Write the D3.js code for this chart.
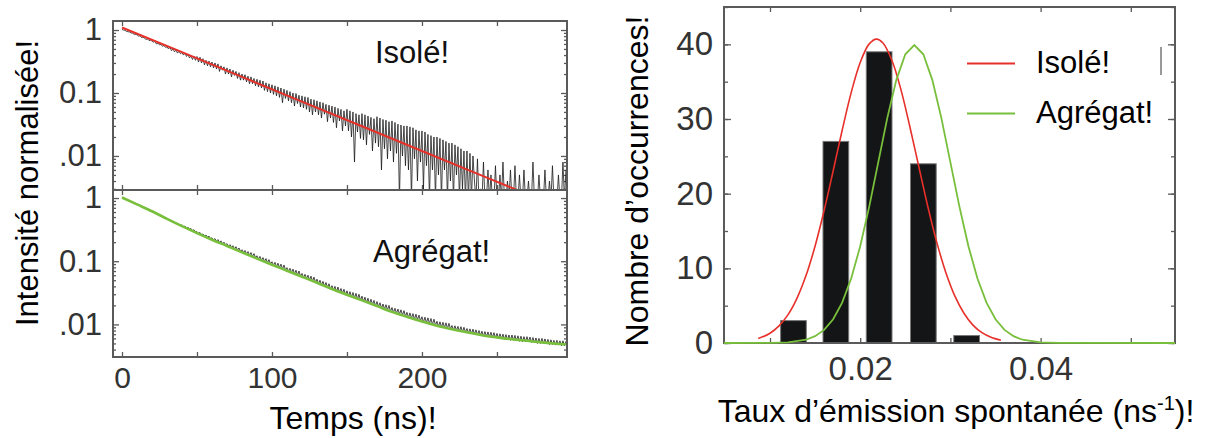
<!DOCTYPE html>
<html><head><meta charset="utf-8">
<script src="https://cdn.jsdelivr.net/npm/d3@7"></script>
<style>
body{margin:0;background:#fff}
svg text{font-family:"Liberation Sans",Arial,Helvetica,sans-serif}
</style></head>
<body><svg id="c" width="1209" height="438"></svg>
<script>
// ---------------- DATA ----------------
const decayTimes = d3.range(0, 297, 1); // ns, acquisition grid (297 samples)
const isoleDecay = [
 1.02,1.00,0.99,0.95,0.94,0.93,0.90,0.89,0.86,0.85,
 0.84,0.80,0.81,0.76,0.77,0.74,0.71,0.72,0.68,0.69,
 0.67,0.64,0.66,0.60,0.62,0.58,0.59,0.55,0.57,0.53,
 0.54,0.50,0.53,0.47,0.50,0.45,0.48,0.43,0.46,0.42,
 0.44,0.40,0.43,0.38,0.41,0.36,0.39,0.34,0.38,0.33,
 0.38,0.31,0.37,0.30,0.35,0.28,0.33,0.27,0.32,0.26,
 0.31,0.25,0.30,0.24,0.29,0.22,0.27,0.23,0.26,0.20,
 0.25,0.20,0.24,0.18,0.23,0.19,0.22,0.17,0.21,0.16,
 0.20,0.16,0.195,0.15,0.185,0.14,0.18,0.14,0.17,0.13,
 0.165,0.125,0.16,0.12,0.155,0.11,0.145,0.105,0.14,0.10,
 0.135,0.095,0.13,0.09,0.125,0.085,0.12,0.07,0.115,0.082,
 0.11,0.075,0.105,0.07,0.10,0.062,0.098,0.068,0.092,0.06,
 0.09,0.058,0.087,0.055,0.085,0.05,0.08,0.045,0.078,0.05,
 0.075,0.045,0.072,0.04,0.07,0.046,0.066,0.035,0.064,0.04,
 0.062,0.034,0.06,0.028,0.057,0.036,0.055,0.025,0.052,0.03,
 0.055,0.025,0.052,0.02,0.05,0.008,0.047,0.024,0.045,0.019,
 0.047,0.018,0.045,0.015,0.043,0.022,0.041,0.012,0.039,0.016,
 0.042,0.014,0.04,0.006,0.038,0.013,0.037,0.009,0.035,0.012,
 0.036,0.008,0.034,0.011,0.032,0.002,0.031,0.01,0.03,0.007,
 0.03,0.006,0.029,0.002,0.028,0.009,0.026,0.004,0.025,0.008,
 0.025,0.003,0.024,0.007,0.022,0.002,0.021,0.006,0.02,0.002,
 0.02,0.005,0.019,0.002,0.018,0.006,0.017,0.002,0.016,0.004,
 0.016,0.002,0.015,0.005,0.014,0.002,0.013,0.003,0.012,0.002,
 0.012,0.002,0.011,0.002,0.01,0.004,0.002,0.009,0.002,0.003,
 0.002,0.008,0.002,0.002,0.006,0.002,0.005,0.002,0.002,0.007,
 0.002,0.002,0.005,0.002,0.008,0.002,0.002,0.004,0.002,0.006,
 0.002,0.002,0.007,0.002,0.002,0.005,0.002,0.002,0.006,0.002,
 0.002,0.004,0.002,0.002,0.008,0.002,0.002,0.002,0.005,0.002,
 0.002,0.002,0.006,0.002,0.002,0.004,0.002,0.007,0.002,0.002,
 0.002,0.005,0.002,0.002,0.008,0.002,0.006
];
const agregatDecay = [
 1.03,1.00,0.98,0.95,0.93,0.91,0.88,0.87,0.84,0.82,
 0.80,0.78,0.76,0.745,0.72,0.71,0.69,0.675,0.655,0.64,
 0.625,0.61,0.59,0.575,0.56,0.545,0.53,0.515,0.50,0.49,
 0.475,0.46,0.45,0.44,0.425,0.415,0.405,0.395,0.385,0.372,
 0.375,0.352,0.36,0.336,0.345,0.32,0.33,0.303,0.315,0.289,
 0.295,0.275,0.285,0.262,0.27,0.25,0.26,0.238,0.25,0.227,
 0.235,0.216,0.228,0.206,0.22,0.197,0.21,0.188,0.2,0.18,
 0.19,0.171,0.183,0.164,0.176,0.156,0.17,0.15,0.162,0.143,
 0.152,0.136,0.148,0.13,0.142,0.124,0.137,0.119,0.132,0.114,
 0.122,0.108,0.119,0.103,0.114,0.099,0.11,0.094,0.106,0.091,
 0.098,0.086,0.096,0.082,0.093,0.079,0.09,0.075,0.087,0.073,
 0.079,0.069,0.077,0.066,0.075,0.063,0.072,0.06,0.07,0.058,
 0.064,0.055,0.062,0.053,0.06,0.05,0.058,0.048,0.056,0.046,
 0.052,0.044,0.05,0.042,0.048,0.04,0.046,0.038,0.044,0.036,
 0.041,0.035,0.04,0.033,0.039,0.032,0.037,0.031,0.036,0.029,
 0.034,0.028,0.033,0.027,0.032,0.026,0.031,0.025,0.03,0.024,
 0.028,0.023,0.027,0.022,0.026,0.021,0.025,0.0205,0.024,0.0195,
 0.023,0.019,0.022,0.018,0.021,0.0175,0.0205,0.0168,0.02,0.016,
 0.0185,0.0154,0.018,0.015,0.0175,0.0145,0.017,0.014,0.0165,0.0135,
 0.0155,0.0128,0.0152,0.0125,0.0148,0.012,0.0145,0.0118,0.014,0.0114,
 0.0132,0.0108,0.013,0.0106,0.0127,0.0103,0.0124,0.0099,0.0121,0.0097,
 0.0112,0.0093,0.011,0.009,0.0108,0.0089,0.0106,0.0086,0.0104,0.0085,
 0.0096,0.0082,0.0095,0.008,0.0093,0.0078,0.0092,0.0076,0.009,0.0075,
 0.0086,0.0073,0.0085,0.0071,0.0084,0.007,0.0082,0.0068,0.008,0.0067,
 0.0078,0.0065,0.0077,0.0064,0.0076,0.0063,0.0075,0.0062,0.0074,0.0061,
 0.0072,0.006,0.0071,0.0059,0.007,0.0058,0.0069,0.0057,0.0068,0.0056,
 0.0068,0.0056,0.0067,0.0055,0.0066,0.0054,0.0065,0.0053,0.0064,0.0053,
 0.0064,0.0053,0.0063,0.0052,0.0062,0.0051,0.0061,0.005,0.006,0.005,
 0.006,0.005,0.0059,0.0049,0.0058,0.0048,0.0057,0.0048,0.0056,0.0047,
 0.0056,0.0047,0.0055,0.0046,0.0055,0.0046,0.0054
];
const isoleFitTimes  = [0, 40, 80, 120, 160, 200, 240, 270];
const isoleFitValues = [1.096, 0.445, 0.180, 0.0731, 0.0296, 0.0120, 0.00488, 0.00248];
const agregatFitTimes  = [0,10,20,30,40,50,60,70,80,90,100,110,120,130,140,150,160,170,180,190,200,210,220,230,240,250,260,270,280,290,296];
const agregatFitValues = [1.02,0.794,0.617,0.468,0.359,0.279,0.219,0.174,0.138,0.110,0.0881,0.0708,0.0569,0.0457,0.0363,0.0295,0.0240,0.0195,0.0158,0.0132,0.0111,0.00955,0.00841,0.00750,0.00676,0.00624,0.00582,0.00550,0.00519,0.00495,0.00484];
const logTickValues = [1, 0.1, 0.01];
const logTickLabels = ["1", "0.1", ".01"];
const timeTickValues = [0, 100, 200];
const timeMinorTicks = [0, 50, 100, 150, 200, 250];

const rateBins   = [0.0126, 0.0173, 0.0221, 0.0270, 0.0318];
const rateCounts = [3, 27, 39, 24, 1];
const isoleGaussX = [0.0087,0.0100,0.0110,0.0120,0.0130,0.0140,0.0150,0.0160,0.0170,0.0180,0.0190,0.0200,0.0210,0.0218,0.0225,0.0235,0.0245,0.0255,0.0265,0.0275,0.0285,0.0295,0.0305,0.0315,0.0325,0.0335,0.0345,0.0356];
const isoleGaussY = [0.59,1.31,2.29,3.80,6.02,9.06,12.99,17.74,23.04,28.49,33.53,37.57,40.06,40.7,40.21,37.9,34.0,29.0,23.6,18.25,13.44,9.42,6.28,3.99,2.40,1.38,0.76,0.37];
const agregatGaussX = [0.0049,0.0100,0.0120,0.0140,0.0150,0.0160,0.0170,0.0180,0.0190,0.0200,0.0210,0.0220,0.0230,0.0240,0.0250,0.0260,0.0270,0.0280,0.0290,0.0300,0.0310,0.0320,0.0330,0.0340,0.0350,0.0360,0.0370,0.0380,0.0400,0.0420,0.0549];
const agregatGaussY = [0,0.01,0.09,0.44,0.91,1.75,3.18,5.40,8.63,12.95,18.27,24.2,30.12,35.21,38.67,39.9,38.67,35.21,30.12,24.2,18.27,12.95,8.63,5.40,3.18,1.75,0.91,0.44,0.09,0.01,0];
const countTickValues = [0, 10, 20, 30, 40];
const countMinorTicks = [0,5,10,15,20,25,30,35,40,45];
const rateTickValues = [0.02, 0.04];
const rateMinorTicks = [0.01, 0.02, 0.03, 0.04, 0.05];
const legendLabels = ["Isolé!", "Agrégat!"];

// ---------------- STYLE ----------------
const frameColor = "#5a5a5a";
const tickLabelColor = "#333";
const red = "#e8302a", green = "#78bf3c";

const svg = d3.select("#c");

// ---------------- LEFT PANELS ----------------
const xT = d3.scaleLinear().domain([-6, 296.7]).range([113, 567]);
const yA = d3.scaleLog().domain([0.00288, 1.39]).range([190, 21]);
const yB = d3.scaleLog().domain([0.00305, 1.34]).range([357, 190]);

const defs = svg.append("defs");
defs.append("clipPath").attr("id","clipA").append("rect").attr("x",113).attr("y",21).attr("width",454).attr("height",169);
defs.append("clipPath").attr("id","clipB").append("rect").attr("x",113).attr("y",190).attr("width",454).attr("height",167);

const isMajor = v => Math.abs(Math.log10(v) - Math.round(Math.log10(v))) < 1e-6;

function tickAxis(axis, transform, size, fmt, pad, fontSize) {
  const g = svg.append("g").attr("transform", transform)
    .call(axis.tickSize(size).tickPadding(pad || 3).tickFormat(fmt || ""));
  g.select(".domain").remove();
  g.selectAll("line").attr("stroke", frameColor).attr("stroke-width", 1.3);
  g.selectAll("text").attr("fill", tickLabelColor).attr("font-size", fontSize || 10)
    .attr("font-family", '"Liberation Sans",Arial,sans-serif');
  return g;
}

function leftPanel(y, y0, y1) {
  const minors = y.ticks().filter(v => !isMajor(v));
  tickAxis(d3.axisLeft(y).tickValues(minors), "translate(113,0)", -3);
  tickAxis(d3.axisRight(y).tickValues(minors), "translate(567,0)", -3);
  tickAxis(d3.axisLeft(y).tickValues(logTickValues), "translate(113,0)", -6,
    (d, i) => logTickLabels[i], 11, 31);
  tickAxis(d3.axisRight(y).tickValues(logTickValues), "translate(567,0)", -6);
  tickAxis(d3.axisTop(xT).tickValues(timeMinorTicks), `translate(0,${y0})`, -5);
  tickAxis(d3.axisBottom(xT).tickValues(timeMinorTicks), `translate(0,${y1})`, -5);
}
leftPanel(yA, 21, 190);
leftPanel(yB, 190, 357);

tickAxis(d3.axisBottom(xT).tickValues(timeTickValues), "translate(0,357)", 0, d3.format("d"), 10, 30)
  .selectAll("line").remove();

// decay traces
const lineA = d3.line().x((d, i) => xT(decayTimes[i])).y(d => yA(d));
const lineB = d3.line().x((d, i) => xT(decayTimes[i])).y(d => yB(d));
svg.append("path").attr("clip-path","url(#clipA)").attr("d", lineA(isoleDecay))
  .attr("fill","none").attr("stroke","#1a1a1a").attr("stroke-opacity",0.8).attr("stroke-width",1);
svg.append("path").attr("clip-path","url(#clipB)").attr("d", lineB(agregatDecay))
  .attr("fill","none").attr("stroke","#1a1a1a").attr("stroke-opacity",0.8).attr("stroke-width",1);

// fits
svg.append("path").attr("clip-path","url(#clipA)")
  .attr("d", d3.line().x((d,i)=>xT(isoleFitTimes[i])).y(d=>yA(d))(isoleFitValues))
  .attr("fill","none").attr("stroke",red).attr("stroke-width",2);
svg.append("path").attr("clip-path","url(#clipB)")
  .attr("d", d3.line().curve(d3.curveMonotoneX).x((d,i)=>xT(agregatFitTimes[i])).y(d=>yB(d))(agregatFitValues))
  .attr("fill","none").attr("stroke",green).attr("stroke-width",2.6);

// frames
svg.append("rect").attr("x",113).attr("y",21).attr("width",454).attr("height",336)
  .attr("fill","none").attr("stroke",frameColor).attr("stroke-width",2);
svg.append("line").attr("x1",113).attr("x2",567).attr("y1",190).attr("y2",190)
  .attr("stroke",frameColor).attr("stroke-width",2);

// panel labels
svg.append("text").attr("x",375).attr("y",63).attr("font-size",31).attr("fill","#111").text(legendLabels[0]);
svg.append("text").attr("x",373).attr("y",262).attr("font-size",31).attr("fill","#111").text(legendLabels[1]);

// axis titles
svg.append("text").attr("transform","translate(38,183) rotate(-90)").attr("text-anchor","middle")
  .attr("font-size",31).attr("fill","#000").text("Intensité normalisée!");
svg.append("text").attr("x",353).attr("y",429).attr("text-anchor","middle")
  .attr("font-size",32).attr("fill","#000").text("Temps (ns)!");

// ---------------- RIGHT PANEL ----------------
const xR = d3.scaleLinear().domain([0.0049, 0.0549]).range([724, 1175]);
const yR = d3.scaleLinear().domain([0, 45]).range([343, 7]);
const barWidthUnits = 0.00285;

tickAxis(d3.axisLeft(yR).tickValues(countMinorTicks), "translate(724,0)", -4);
tickAxis(d3.axisRight(yR).tickValues(countMinorTicks), "translate(1175,0)", -4);
tickAxis(d3.axisLeft(yR).tickValues(countTickValues), "translate(724,0)", -7, d3.format("d"), 11, 33);
tickAxis(d3.axisRight(yR).tickValues(countTickValues), "translate(1175,0)", -7);
tickAxis(d3.axisTop(xR).tickValues(rateMinorTicks), "translate(0,7)", -5);
tickAxis(d3.axisBottom(xR).tickValues(rateMinorTicks), "translate(0,343)", -5);
tickAxis(d3.axisBottom(xR).tickValues(rateTickValues), "translate(0,343)", 0, d3.format(".2f"), 14, 33)
  .selectAll("line").remove();

svg.append("g").selectAll("rect").data(rateCounts).join("rect")
  .attr("x", (d,i) => xR(rateBins[i] - barWidthUnits/2))
  .attr("width", (d,i) => xR(rateBins[i] + barWidthUnits/2) - xR(rateBins[i] - barWidthUnits/2))
  .attr("y", d => yR(d)).attr("height", d => yR(0) - yR(d))
  .attr("fill","#141516").attr("stroke","#777").attr("stroke-width",1);

svg.append("rect").attr("x",724).attr("y",7).attr("width",451).attr("height",336)
  .attr("fill","none").attr("stroke",frameColor).attr("stroke-width",2);

svg.append("path")
  .attr("d", d3.line().curve(d3.curveCatmullRom).x((d,i)=>xR(isoleGaussX[i])).y(d=>yR(d))(isoleGaussY))
  .attr("fill","none").attr("stroke",red).attr("stroke-width",1.6);
svg.append("path")
  .attr("d", d3.line().x((d,i)=>xR(agregatGaussX[i])).y(d=>yR(d))(agregatGaussY))
  .attr("fill","none").attr("stroke",green).attr("stroke-width",1.8);

// legend
const legY = [63.5, 113.5];
[red, green].forEach((c, i) => {
  svg.append("line").attr("x1",967).attr("x2",1015).attr("y1",legY[i]).attr("y2",legY[i])
    .attr("stroke",c).attr("stroke-width",2.2);
  svg.append("text").attr("x",1036).attr("y",legY[i]+9.5).attr("font-size",31).attr("fill","#000").text(legendLabels[i]);
});
svg.append("line").attr("x1",1161).attr("x2",1161).attr("y1",47).attr("y2",75).attr("stroke","#555").attr("stroke-width",1.2);

// titles
const t = svg.append("text").attr("x",956).attr("y",422).attr("text-anchor","middle")
  .attr("font-size",32).attr("fill","#000");
t.append("tspan").text("Taux d’émission spontanée (ns");
t.append("tspan").attr("font-size",20).attr("dy",-12).text("-1");
t.append("tspan").attr("dy",12).text(")!");
svg.append("text").attr("transform","translate(648,181) rotate(-90)").attr("text-anchor","middle")
  .attr("font-size",32).attr("fill","#000").text("Nombre d’occurrences!");
</script></body></html>
